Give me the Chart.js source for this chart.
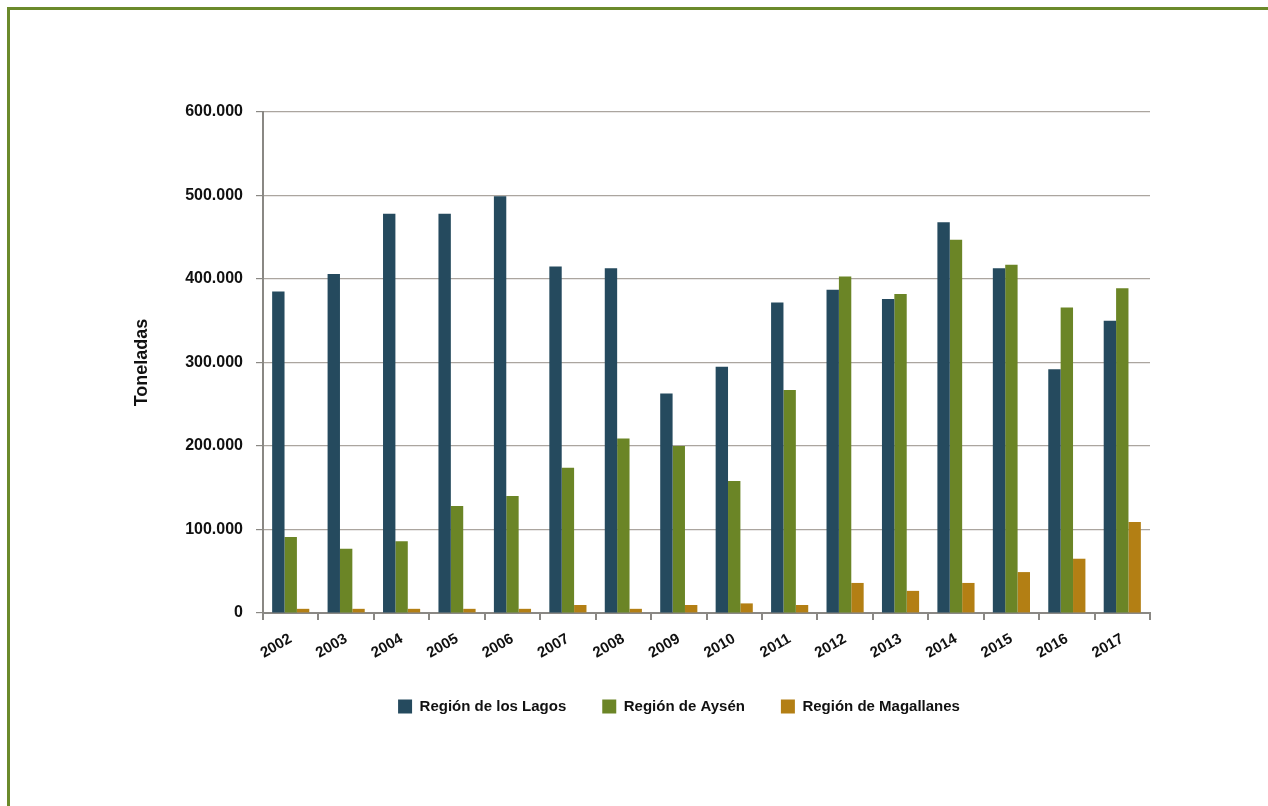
<!DOCTYPE html>
<html>
<head>
<meta charset="utf-8">
<script src="https://cdn.jsdelivr.net/npm/chart.js@4.4.1/dist/chart.umd.min.js"></script>
<style>
  html, body { margin: 0; padding: 0; background: #fff; overflow: hidden; }
  #marco { position: absolute; left: 7px; top: 7px; width: 1400px; height: 1000px; border: 3px solid #6b8a2b; }
  #lienzo { position: absolute; left: 0; top: 0; width: 1268px; height: 806px; }
</style>
</head>
<body>
<div id="marco"></div>
<div id="lienzo"><canvas id="graficaSalmon"></canvas></div>
<script>
// Datos (toneladas)
const anios = ['2002', '2003', '2004', '2005', '2006', '2007', '2008', '2009',
               '2010', '2011', '2012', '2013', '2014', '2015', '2016', '2017'];
const regionLagos = [385000, 406000, 478000, 478000, 499000, 415000, 413000, 263000,
                     295000, 372000, 387000, 376000, 468000, 413000, 292000, 350000];
const regionAysen = [91000, 77000, 86000, 128000, 140000, 174000, 209000, 200000,
                     158000, 267000, 403000, 382000, 447000, 417000, 366000, 389000];
const regionMagallanes = [5000, 5000, 5000, 5000, 5000, 9600, 5000, 9600,
                          11500, 9600, 36000, 26500, 36000, 49000, 65000, 109000];
const etiquetasY = ['0', '100.000', '200.000', '300.000', '400.000', '500.000', '600.000'];

const fuente = "'Liberation Sans', Arial, sans-serif";
Chart.defaults.font.family = fuente;
Chart.defaults.font.weight = 'bold';
Chart.defaults.color = '#111';

const ctx = document.getElementById('graficaSalmon').getContext('2d');

const grafica = new Chart(ctx, {
    type: 'bar',
    data: {
        labels: anios,
        datasets: [{
            label: 'Región de los Lagos',
            data: regionLagos,
            backgroundColor: '#254a5e'
        }, {
            label: 'Región de Aysén',
            data: regionAysen,
            backgroundColor: '#6b8526'
        }, {
            label: 'Región de Magallanes',
            data: regionMagallanes,
            backgroundColor: '#b37f14'
        }]
    },
    options: {
        responsive: true,
        maintainAspectRatio: false,
        animation: false,
        datasets: {
            bar: {
                categoryPercentage: 0.67,
                barPercentage: 1.0
            }
        },
        layout: {
            padding: { left: 125, right: 35, top: 112, bottom: 82 }
        },
        plugins: {
            tooltip: { enabled: false },
            legend: {
                position: 'bottom',
                labels: {
                    boxWidth: 14,
                    boxHeight: 14,
                    padding: 36,
                    font: { size: 15, weight: 'bold' },
                    color: '#111'
                }
            }
        },
        scales: {
            x: {
                grid: {
                    drawOnChartArea: false,
                    drawTicks: true,
                    tickLength: 7,
                    color: '#8a8884',
                    lineWidth: 2
                },
                border: { color: '#8a8884', width: 2 },
                ticks: {
                    minRotation: 30,
                    maxRotation: 30,
                    padding: 10,
                    font: { size: 15, weight: 'bold' },
                    color: '#111'
                },
                afterFit: function (escala) { escala.height = 50; }
            },
            y: {
                min: 0,
                max: 600000,
                ticks: {
                    stepSize: 100000,
                    padding: 13,
                    font: { size: 16, weight: 'bold' },
                    color: '#111',
                    callback: function (valor, i) { return etiquetasY[i]; }
                },
                grid: {
                    color: '#aba59f',
                    lineWidth: 1.2,
                    tickLength: 7,
                    tickColor: '#8a8884'
                },
                border: { color: '#8a8884', width: 2 },
                title: {
                    display: true,
                    text: 'Toneladas',
                    font: { size: 18, weight: 'bold' },
                    color: '#111',
                    padding: { top: 6, bottom: 0 }
                },
                afterFit: function (escala) { escala.width = 138; }
            },
            // eje vacío a la derecha para centrar la leyenda como en el original
            margenDerecho: {
                type: 'linear',
                position: 'right',
                display: true,
                grid: { display: false },
                ticks: { display: false },
                border: { display: false },
                afterFit: function (escala) { escala.width = 83; }
            }
        }
    }
});
</script>
</body>
</html>
